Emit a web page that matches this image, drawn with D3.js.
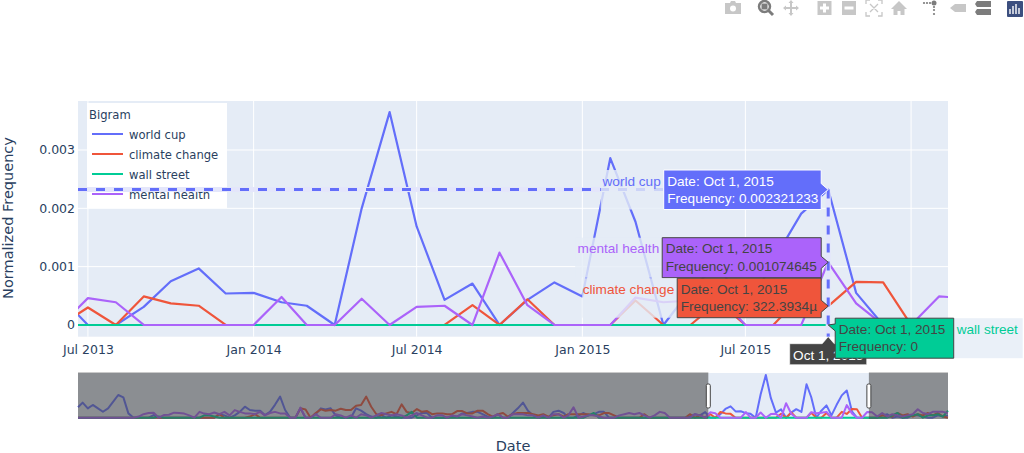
<!DOCTYPE html>
<html><head><meta charset="utf-8">
<script src="https://cdn.jsdelivr.net/npm/d3@7"></script>
<style>html,body{margin:0;padding:0;background:#fff;overflow:hidden}svg{display:block}text{font-family:"DejaVu Sans",sans-serif}</style>
</head><body><svg id="c" width="1024" height="453"></svg>
<script>
// Monthly dates, Feb 2003 to Jun 2017
const months = d3.utcMonth.range(new Date(Date.UTC(2003,1,1)), new Date(Date.UTC(2017,6,1)));
const seriesNames = ["world cup","climate change","wall street","mental health"];
const seriesColors = ["#636efa","#ef553b","#00cc96","#ab63fa"];
const worldCup = [
.00089,.00129,.0008,.00109,.0008,.00051,.0008,.00137,.00194,.00174,
.00037,0,0,0,0,.00023,0,0,0,0,
0,0,0,0,0,0,0,0,.0003,.0002,
0,.0002,.0005,.00094,.00066,.0006,.0006,.00023,.0005,.0011,
.0018,.00066,0,0,.0008,0,0,.0003,.0008,.0007,
.0008,.0002,0,0,0,.0008,.0006,.0003,.0001,0,
.0002,0,.0002,.0001,0,0,0,.0002,.00043,.0004,
0,0,0,0,.0001,.0001,.00037,.0004,.0005,.0005,
.0003,.0001,0,.0003,0,0,.0004,.0008,.00129,.0006,
.0002,0,.0001,0,.0005,.0006,.0004,0,0,.0002,
.0004,.0002,.0003,.0005,.0005,0,0,0,0,0,
0,0,0,0,0,0,0,0,0,0,
0,.0001,.0003,.0002,.00048,
0,0,.00031,.00075,.00097,.00054,.00055,.00039,.00033,0,.002,.00365,.00169,.00043,.00071,0,.00043,.00073,
.00049,.00286,.00177,0,.0006,.00105,.0002,.0011,.00191,.002321233,.00055,0,0,0,
0,0,.0002,.0003,0,.0001,0,0,.0002,.0002,.0001,0,0,.0002,.0001,.0002];
const climateChange = [
0,0,0,0,0,0,0,0,0,0,
0,0,0,0,0,0,0,0,0,0,
0,0,0,0,0,0,0,0,.0003,0,
0,0,0,0,.0001,.0003,0,0,0,0,
0,0,0,0,.0008,.00071,0,.0004,.00071,.0006,
.00066,.0006,.00077,.00066,.00066,.00103,.00109,.0018,.00094,.0003,
.00023,.00037,.0005,.0003,.00114,.0005,.0004,.00074,.0005,.00057,
.0003,.00037,.00037,.0003,.0003,.00057,.00057,.00037,.00037,.0006,
.0006,.0003,.0001,.0003,.0004,.0001,.0003,.0004,.0004,.0004,
.0003,.0002,.0003,.0001,.0002,.0003,.0001,.0003,.0003,.0003,
.0003,.0003,.0002,.0002,.0004,.0004,.0002,0,0,0,
0,0,.0003,0,0,0,0,0,0,0,
0,.0003,0,.0002,0,
.0003,0,.00049,.00037,.00033,0,0,0,0,0,0,0,0,0,.00034,0,.00044,0,
0,0,.00042,0,0,.0004,0,0,.0005,.000322,.00074,.00073,0,0,
0,0,.0002,.0001,.0001,.0004,.0002,.0003,.0001,.0003,.0002,.0004,.0002,.0004,.0001,0];
const wallStreet = [
0,0,0,0,0,0,0,0,0,0,
0,0,0,0,0,0,.0001,0,0,0,
0,0,0,0,0,.0002,.0002,.0001,0,0,
0,0,0,0,0,0,0,0,0,0,
0,0,0,0,0,0,0,0,0,0,
0,0,0,0,0,0,0,0,0,0,
0,0,0,0,0,.0002,.0005,0,0,0,
0,0,0,0,0,0,0,0,0,0,
0,0,0,0,0,0,0,0,0,0,
0,0,0,0,0,0,0,0,0,0,
0,.0002,.0004,0,0,0,0,0,0,0,
0,0,0,0,0,0,0,0,0,0,
0,0,0,0,0,
0,0,0,0,0,0,0,0,0,0,0,0,0,0,0,0,0,0,
0,0,0,0,0,0,0,0,0,0,0,0,0,0,
0,0,0,0,.0002,.0004,0,.0001,.0002,.0003,0,.0002,.0002,.0003,.0001,.0006];
const mentalHealth = [
0,0,0,0,0,0,0,0,0,0,
0,0,.0001,.0003,.0004,.00043,0,.00023,.00025,.00043,
.0004,.00035,.0002,0,.0005,.00035,.0003,.00045,.0003,.0005,
.0002,.00065,.0005,.00037,.00037,.0003,.0005,.0002,.0004,.0005,
.00037,.00037,0,0,.00086,0,0,.0003,0,0,
0,.0003,.0002,0,.0002,0,.0003,.0002,0,.0002,
.0004,.0003,.0002,.0003,.0002,0,.0002,.0004,.0002,0,
0,.0002,.0002,0,.0002,.0001,.0003,.0002,.0001,0,
.0001,0,.0001,.0003,0,0,.0003,.0003,.0003,.0002,
.0002,0,.0002,0,.0003,.0003,0,.0002,.00089,0,
.0001,.0002,.0002,.0001,0,0,0,.0002,.0003,.0004,
.0003,.0004,.0002,0,.0002,.0005,.0004,0,0,0,
0,0,.0003,.0002,0,
.00046,.00039,0,0,0,0,0,.00048,0,0,.00045,0,.00031,.00033,0,.00124,.00034,0,
0,0,.00047,.00039,.00042,.0005,0,0,0,.001074645,.00037,0,0,.00049,
.00046,.0001,.0004,.0001,.0003,.0002,.0001,.0002,.0003,.00072,.0004,.0003,.0005,.0005,.0005,.0004];
const seriesValues = [worldCup,climateChange,wallStreet,mentalHealth];
const xTickDates = [[2013,6],[2014,0],[2014,6],[2015,0],[2015,6],[2016,0]].map(d=>new Date(Date.UTC(d[0],d[1],1)));
const xTickFormat = d3.utcFormat("%b %Y");
const yTicks = [0,.001,.002,.003];
const yTickLabels = ["0","0.001","0.002","0.003"];
const hoverDate = new Date(Date.UTC(2015,9,1));
const hoverDateLabel = "Oct 1, 2015";
const hoverValueLabels = ["0.002321233","322.3934µ","0","0.001074645"];

const svg = d3.select("#c");
const L=78,R=948,T=101,B=336.7;
const viewStart=new Date(Date.UTC(2013,5,20)), viewEnd=new Date(Date.UTC(2016,1,11));
const x=d3.scaleUtc().domain([viewStart,viewEnd]).range([L,R]);
const y=d3.scaleLinear().domain([-.000201,.00384]).range([B,T]);
const mx=d3.scaleUtc().domain([months[0],months[months.length-1]]).range([L,R]);
const my=d3.scaleLinear().domain([-.00011,.00382]).range([419,373]);
const INK="#2a3f5f";
svg.append("defs").append("clipPath").attr("id","pc").append("rect").attr("x",L).attr("y",T).attr("width",R-L).attr("height",B-T);

// plot background + grid
svg.append("rect").attr("x",L).attr("y",T).attr("width",R-L).attr("height",B-T).attr("fill","#e5ecf6");
const grid=svg.append("g");
grid.selectAll(".v").data(xTickDates).join("line").attr("x1",d=>x(d)).attr("x2",d=>x(d)).attr("y1",T).attr("y2",B).attr("stroke","#fff");
grid.selectAll(".h").data(yTicks).join("line").attr("x1",L).attr("x2",R).attr("y1",d=>y(d)).attr("y2",d=>y(d)).attr("stroke","#fff").attr("stroke-width",d=>d===0?2:1);

// axes
const gx=svg.append("g").attr("transform",`translate(0,${B})`).call(d3.axisBottom(x).tickValues(xTickDates).tickFormat(xTickFormat).tickSize(0).tickPadding(8));
const gy=svg.append("g").attr("transform",`translate(${L},0)`).call(d3.axisLeft(y).tickValues(yTicks).tickFormat((d,i)=>yTickLabels[i]).tickSize(0).tickPadding(3));
[gx,gy].forEach(g=>{g.select(".domain").remove();g.selectAll("text").attr("fill",INK).style("font-size","12.5px").style("font-family",'"DejaVu Sans"');});
svg.append("text").attr("x",513).attr("y",451).attr("text-anchor","middle").attr("fill",INK).style("font-size","14.5px").text("Date");
svg.append("text").attr("transform","translate(13,218) rotate(-90)").attr("text-anchor","middle").attr("fill",INK).style("font-size","14.5px").text("Normalized Frequency");

// lines
const rows=months.map((m,i)=>({m,i}));
const mainG=svg.append("g").attr("clip-path","url(#pc)");
const mainLine=k=>d3.line().x(d=>x(d.m)).y(d=>y(seriesValues[k][d.i]));
seriesNames.forEach((n,k)=>mainG.append("path").datum(rows).attr("d",mainLine(k)).attr("fill","none").attr("stroke",seriesColors[k]).attr("stroke-width",2.2).attr("stroke-linejoin","round"));

// range slider
svg.append("rect").attr("x",L).attr("y",373).attr("width",R-L).attr("height",46).attr("fill","#e5ecf6");
const miniLine=k=>d3.line().x(d=>mx(d.m)).y(d=>my(seriesValues[k][d.i]));
seriesNames.forEach((n,k)=>svg.append("path").datum(rows).attr("d",miniLine(k)).attr("fill","none").attr("stroke",seriesColors[k]).attr("stroke-width",2).attr("stroke-linejoin","round"));
const hL=mx(viewStart),hR=mx(viewEnd);
[[L,hL],[hR,R]].forEach(r=>svg.append("rect").attr("x",r[0]).attr("y",372.5).attr("width",r[1]-r[0]).attr("height",46.5).attr("fill","#444").attr("fill-opacity",.56));
[hL,hR].forEach(h=>svg.append("rect").attr("x",h-2).attr("y",384).attr("width",4).attr("height",24).attr("rx",1.5).attr("fill","#fff").attr("stroke","#444").attr("stroke-width",1));

// legend
const lg=svg.append("g");
lg.append("rect").attr("x",87).attr("y",103).attr("width",140).attr("height",105).attr("fill","#fff");
lg.append("text").attr("x",89).attr("y",119).attr("fill",INK).style("font-size","11.6px").text("Bigram");
seriesNames.forEach((n,k)=>{const yy=134+k*20;
 lg.append("line").attr("x1",92).attr("x2",123).attr("y1",yy).attr("y2",yy).attr("stroke",seriesColors[k]).attr("stroke-width",2);
 lg.append("text").attr("x",129).attr("y",yy+4.5).attr("fill",INK).style("font-size","11.6px").text(n);});

// spikes
const hx=x(hoverDate), hy=y(worldCup[months.findIndex(m=>+m===+hoverDate)]);
const spikes=[[L,hy,hx,hy],[hx,hy,hx,B]];
spikes.forEach(s=>svg.append("line").attr("x1",s[0]).attr("y1",s[1]).attr("x2",s[2]).attr("y2",s[3]).attr("stroke","#e4e6fb").attr("stroke-width",5));
spikes.forEach(s=>svg.append("line").attr("x1",s[0]).attr("y1",s[1]).attr("x2",s[2]).attr("y2",s[3]).attr("stroke",seriesColors[0]).attr("stroke-width",3).attr("stroke-dasharray","9,9"));

// hover labels
const hi=months.findIndex(m=>+m===+hoverDate);
const tips=[
 {k:0,side:"L",w:157.5,top:170,h:39.5,nameW:63,txt:"#fff",stroke:"#fff"},
 {k:3,side:"L",w:159,top:237.7,h:40,nameW:87,txt:"#444",stroke:"#444"},
 {k:1,side:"L",w:144,top:278.2,h:39.5,nameW:95,txt:"#444",stroke:"#444"},
 {k:2,side:"R",w:118.5,top:318.2,h:40,nameW:69,txt:"#444",stroke:"#444"}];

// x hover label, beneath the tooltips
const xt=svg.append("g");
xt.append("path").attr("d",`M${hx},${B} l6,7 h32.5 v21 h-77 v-21 h32.5 z`).attr("fill","#444").attr("stroke","#fff").attr("stroke-width",.6);
xt.append("text").attr("x",hx).attr("y",B+23.5).attr("text-anchor","middle").attr("fill","#fff").style("font-family",'"Liberation Sans"').style("font-size","13.6px").text(hoverDateLabel);

tips.forEach(t=>{
 const py=y(seriesValues[t.k][hi]), g=svg.append("g"), bot=t.top+t.h;
 const lft=t.side==="L"?hx-7-t.w:hx+7, rgt=lft+t.w;
 const ay=Math.max(t.top+2,Math.min(bot-2,py));
 const nameX=t.side==="L"?lft-t.nameW:rgt;
 g.append("rect").attr("x",nameX).attr("y",t.top).attr("width",t.nameW).attr("height",t.h).attr("fill","#e5ecf6").attr("fill-opacity",.8);
 const p=d3.path();
 p.moveTo(lft,t.top);p.lineTo(rgt,t.top);
 if(t.side==="L"){p.lineTo(rgt,ay-6);p.lineTo(hx,py);p.lineTo(rgt,ay+6);p.lineTo(rgt,bot);p.lineTo(lft,bot);}
 else{p.lineTo(rgt,bot);p.lineTo(lft,bot);p.lineTo(lft,ay+6);p.lineTo(hx,py);p.lineTo(lft,ay-1);}
 p.closePath();
 g.append("path").attr("d",p.toString()).attr("fill",seriesColors[t.k]).attr("stroke",t.stroke).attr("stroke-width",1);
 const f=s=>s.style("font-family",'"Liberation Sans"').style("font-size","13.6px");
 f(g.append("text").attr("x",lft+3.5).attr("y",t.top+15.5).attr("fill",t.txt).text("Date: "+hoverDateLabel));
 f(g.append("text").attr("x",lft+3.5).attr("y",t.top+33).attr("fill",t.txt).text("Frequency: "+hoverValueLabels[t.k]));
 const nm=f(g.append("text").attr("y",t.top+15.5).attr("fill",seriesColors[t.k]).text(seriesNames[t.k]));
 if(t.side==="L")nm.attr("x",lft-3).attr("text-anchor","end"); else nm.attr("x",rgt+3);
});

// modebar
const mb=svg.append("g");
const G="rgba(68,68,68,.3)",D="rgba(68,68,68,.7)";
const icon=(cx,fn)=>fn(mb.append("g").attr("transform",`translate(${cx},8)`));
icon(733,g=>{g.append("path").attr("d","M-8,-5H-3L-2,-7H2L3,-5H8V6H-8Z").attr("fill",G);g.append("circle").attr("r",3).attr("cy",.5).attr("fill","#fff");});
icon(766,g=>{g.append("circle").attr("r",5.5).attr("cx",-1.5).attr("cy",-1.5).attr("fill","none").attr("stroke",D).attr("stroke-width",2.5);g.append("rect").attr("x",-4.5).attr("y",-4.5).attr("width",6).attr("height",6).attr("fill",D);g.append("line").attr("x1",3).attr("y1",3).attr("x2",7).attr("y2",7).attr("stroke",D).attr("stroke-width",3);});
icon(791,g=>{g.append("path").attr("d","M0,-8L2.5,-5H1V-1H5V-2.5L8,0L5,2.5V1H1V5H2.5L0,8L-2.5,5H-1V1H-5V2.5L-8,0L-5,-2.5V-1H-1V-5H-2.5Z").attr("fill",G);});
icon(824.5,g=>{g.append("path").attr("d","M-7,-7H7V7H-7ZM-1.5,-4.5V-1.5H-4.5V1.5H-1.5V4.5H1.5V1.5H4.5V-1.5H1.5V-4.5Z").attr("fill",G).attr("fill-rule","evenodd");});
icon(849,g=>{g.append("path").attr("d","M-7,-7H7V7H-7ZM-4.5,-1.5V1.5H4.5V-1.5Z").attr("fill",G).attr("fill-rule","evenodd");});
icon(874,g=>{g.append("path").attr("d","M-8,-4V-8H-4M4,-8H8V-4M8,4V8H4M-4,8H-8V4M-4,-4L4,4M4,-4L-4,4").attr("fill","none").attr("stroke",G).attr("stroke-width",1.3);});
icon(899,g=>{g.append("path").attr("d","M0,-7L8,1H5.5V7H1.5V3H-1.5V7H-5.5V1H-8Z").attr("fill",G);});
icon(934,g=>{[[-10,-5],[-7,-5],[-4,-5]].forEach(c=>g.append("circle").attr("cx",c[0]).attr("cy",c[1]).attr("r",1.1).attr("fill",D));g.append("circle").attr("cx",0).attr("cy",-5).attr("r",2.5).attr("fill",D);[-1,2,6].forEach(c=>g.append("circle").attr("cx",0).attr("cy",c).attr("r",1.1).attr("fill",D));});
icon(958,g=>{g.append("path").attr("d","M-8,0L-3,-4H8V4H-3Z").attr("fill",G);});
icon(983,g=>{g.append("path").attr("d","M-6,-7H8V-1H-6L-8,-4ZM-6,1H8V7H-6L-8,4Z").attr("fill",D);});
icon(1015,g=>{g.append("rect").attr("x",-8).attr("y",-7).attr("width",16).attr("height",16).attr("rx",1).attr("fill","#3c4f7f");[[-5,1],[-2,-2],[1,-4],[4,0]].forEach(b=>g.append("line").attr("x1",b[0]).attr("x2",b[0]).attr("y1",b[1]).attr("y2",6).attr("stroke","#fff").attr("stroke-width",1.4));});
</script></body></html>
